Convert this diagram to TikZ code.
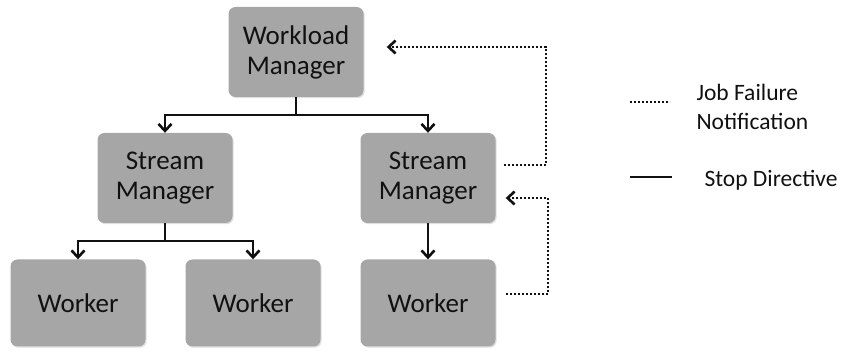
\documentclass[tikz,border=0pt]{standalone}
\usepackage{fontspec}
\setmainfont{Carlito}
\usepackage{xcolor}
\usepackage{tikz}
\usetikzlibrary{arrows.meta,shadows}
\definecolor{boxgray}{HTML}{A6A6A6}
\definecolor{inkblk}{HTML}{111111}
\tikzstyle{mgr}=[rectangle, rounded corners=7pt, fill=boxgray,% grey boxes with a soft shadow
minimum width=135pt, minimum height=90pt, align=center, text=inkblk,
font=\fontsize{27}{30}\selectfont,
drop shadow={opacity=0.25, shadow xshift=1.2pt, shadow yshift=-1.2pt}]
\tikzstyle{wrk}=[mgr, minimum height=87pt]
\tikzstyle{stopline}=[line width=2.6pt, draw=inkblk]
\tikzstyle{failline}=[line width=2.6pt, draw=inkblk, dash pattern=on 2pt off 2pt]
\tikzstyle{lgd}=[anchor=west, align=left, text=inkblk, font=\fontsize{23.5}{29}\selectfont]

\begin{document}
\begin{tikzpicture}[x=1pt,y=-1pt]
\useasboundingbox (0,0) rectangle (844,352);
\node[mgr] (wm) at (296,52) {Workload\\Manager};
\node[mgr] (sml) at (165,178) {Stream\\Manager};
\node[mgr] (smr) at (428,178) {Stream\\Manager};
\node[wrk] (w1) at (78,303) {Worker};
\node[wrk] (w2) at (253,303) {Worker};
\node[wrk] (w3) at (428,303) {Worker};
% stop directives
\draw [stopline,-{Straight Barb[length=7pt,width=13pt]}] (wm.south) -- ++(0,18) -| (sml.north);
\draw [stopline,-{Straight Barb[length=7pt,width=13pt]}] (wm.south) -- ++(0,18) -| (smr.north);
\draw [stopline,-{Straight Barb[length=7pt,width=13pt]}] (sml.south) -- ++(0,18) -| (w1.north);
\draw [stopline,-{Straight Barb[length=7pt,width=13pt]}] (sml.south) -- ++(0,18) -| (w2.north);
\draw [stopline,-{Straight Barb[length=7pt,width=13pt]}] (smr.south) -- (w3.north);
% job failure notifications
\draw [failline,-{Straight Barb[length=7pt,width=13pt]}] ([xshift=8pt,yshift=13pt]smr.east) -| (546,47) -- ([xshift=23pt,yshift=5pt]wm.east);
\draw [failline,-{Straight Barb[length=7pt,width=13pt]}] ([xshift=10pt,yshift=9pt]w3.east) -| (548,198) -- ([xshift=10pt,yshift=-20pt]smr.east);
% legend
\coordinate (fa) at (630,102);
\coordinate (fb) at (670,102);
\coordinate (sa) at (630,177);
\coordinate (sb) at (672,177);
\draw [failline] (fa) -- (fb);
\draw [stopline] (sa) -- (sb);
\node[lgd] (fl) at (693,107) {Job Failure\\Notification};
\node[lgd] (sl) at (701,180) {Stop Directive};
\end{tikzpicture}
\end{document}
